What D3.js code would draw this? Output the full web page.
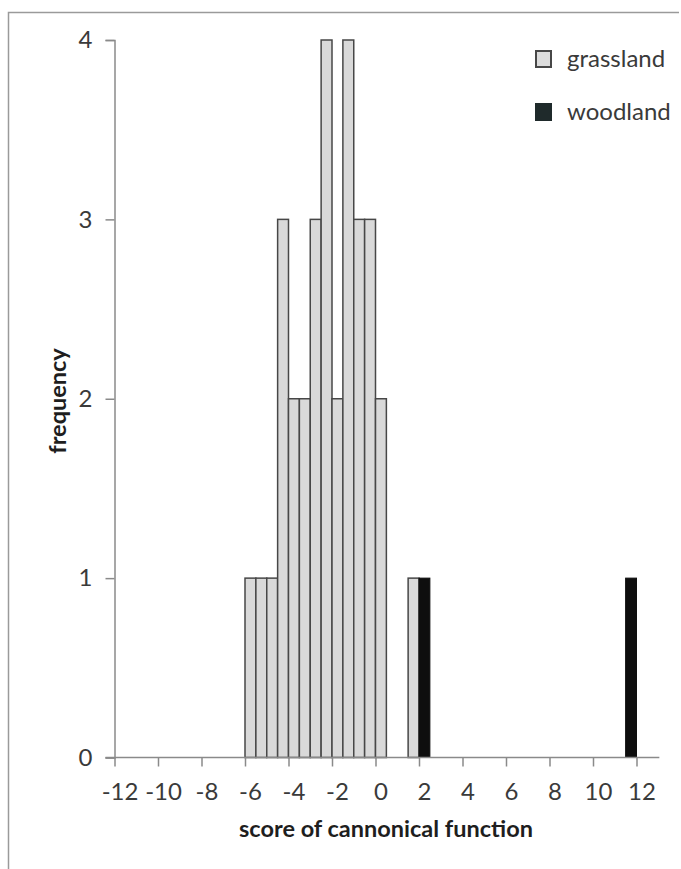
<!DOCTYPE html>
<html>
<head>
<meta charset="utf-8">
<script src="https://cdn.jsdelivr.net/npm/d3@7"></script>
<style>
  body { margin: 0; background: #fff; }
  svg text { font-family: Lato, "Open Sans", sans-serif; }
</style>
</head>
<body>
<svg width="681" height="869"></svg>
<script>
// histogram bins (bin start, width 0.5) and counts
var binWidth = 0.5;
var grassStart = [-6, -5.5, -5, -4.5, -4, -3.5, -3, -2.5, -2, -1.5, -1, -0.5, 0, 1.5];
var grassCount = [1, 1, 1, 3, 2, 2, 3, 4, 2, 4, 3, 3, 2, 1];
var woodStart = [2, 11.5];
var woodCount = [1, 1];
var xTicks = [-12, -10, -8, -6, -4, -2, 0, 2, 4, 6, 8, 10, 12];
var yTicks = [0, 1, 2, 3, 4];
var seriesNames = ["grassland", "woodland"];

var svg = d3.select("svg");

var x = d3.scaleLinear()
  .domain([-12, 12])
  .range([114.5, 636.5]);

var y = d3.scaleLinear()
  .domain([0, 4])
  .range([757.5, 40]);

var axisColor = "#8a8a8a";

// frame (top + left edges of the original figure)
svg.append("path")
  .attr("d", "M8.5,869 V12.5 H679")
  .attr("fill", "none")
  .attr("stroke", "#9a9a9a")
  .attr("stroke-width", 1.5);

// bars
var grass = grassStart.map(function (s, i) { return [s, grassCount[i]]; });
var wood = woodStart.map(function (s, i) { return [s, woodCount[i]]; });

svg.append("g").selectAll(".gbar")
  .data(grass)
  .enter().append("rect")
    .attr("class", "gbar")
    .attr("x", function (d) { return x(d[0]); })
    .attr("y", function (d) { return y(d[1]); })
    .attr("width", function (d) { return x(d[0] + binWidth) - x(d[0]); })
    .attr("height", function (d) { return y(0) - y(d[1]); })
    .attr("fill", "#d9d9d9")
    .attr("stroke", "#474747")
    .attr("stroke-width", 1.5);

svg.append("g").selectAll(".wbar")
  .data(wood)
  .enter().append("rect")
    .attr("class", "wbar")
    .attr("x", function (d) { return x(d[0]); })
    .attr("y", function (d) { return y(d[1]); })
    .attr("width", function (d) { return x(d[0] + binWidth) - x(d[0]); })
    .attr("height", function (d) { return y(0) - y(d[1]); })
    .attr("fill", "#0e0e0e")
    .attr("stroke", "#0e0e0e")
    .attr("stroke-width", 1);

// y axis
var gy = svg.append("g")
  .attr("transform", "translate(" + x(-12) + ",0)")
  .call(d3.axisLeft(y).tickValues(yTicks).tickSize(9).tickPadding(13).tickFormat(d3.format("d")));
gy.select(".domain").attr("stroke", axisColor).attr("stroke-width", 1.5);
gy.selectAll(".tick line").attr("stroke", axisColor).attr("stroke-width", 1.5);
gy.selectAll(".tick text")
  .attr("fill", "#3a3a3a")
  .attr("font-size", 24);

// x axis
var gx = svg.append("g")
  .attr("transform", "translate(0," + y(0) + ")")
  .call(d3.axisBottom(x).tickValues(xTicks).tickSize(9).tickPadding(16).tickFormat(d3.format("d")));
gx.select(".domain").remove();
gx.selectAll(".tick line").attr("stroke", axisColor).attr("stroke-width", 1.5);
gx.selectAll(".tick text")
  .attr("fill", "#3a3a3a")
  .attr("font-size", 24)
  .attr("dx", 5)
  .text(function (d) { return String(d).replace("\u2212", "-"); });

svg.append("line")
  .attr("x1", x(-12) - 9)
  .attr("x2", x(13.05))
  .attr("y1", y(0))
  .attr("y2", y(0))
  .attr("stroke", axisColor)
  .attr("stroke-width", 1.5);

// axis titles
svg.append("text")
  .attr("x", 386)
  .attr("y", 837)
  .attr("text-anchor", "middle")
  .attr("font-size", 23.5)
  .attr("font-weight", "bold")
  .attr("fill", "#1e1e1e")
  .text("score of cannonical function");

svg.append("text")
  .attr("transform", "translate(66,401) rotate(-90)")
  .attr("text-anchor", "middle")
  .attr("font-size", 23.5)
  .attr("font-weight", "bold")
  .attr("fill", "#1e1e1e")
  .text("frequency");

// legend
var legend = svg.append("g").attr("transform", "translate(535,50)");
var legendFill = ["#dcdcdc", "#1f2a2b"];
var legendStroke = ["#474747", "#1f2a2b"];

legend.selectAll(".lkey")
  .data(seriesNames)
  .enter().append("rect")
    .attr("class", "lkey")
    .attr("x", 1)
    .attr("y", function (d, i) { return i * 53 + 1; })
    .attr("width", 15)
    .attr("height", 16)
    .attr("fill", function (d, i) { return legendFill[i]; })
    .attr("stroke", function (d, i) { return legendStroke[i]; })
    .attr("stroke-width", 2);

legend.selectAll(".llabel")
  .data(seriesNames)
  .enter().append("text")
    .attr("class", "llabel")
    .attr("x", 32)
    .attr("y", function (d, i) { return i * 53 + 17; })
    .attr("font-size", 24)
    .attr("fill", "#3a3a3a")
    .text(function (d) { return d; });
</script>
</body>
</html>
